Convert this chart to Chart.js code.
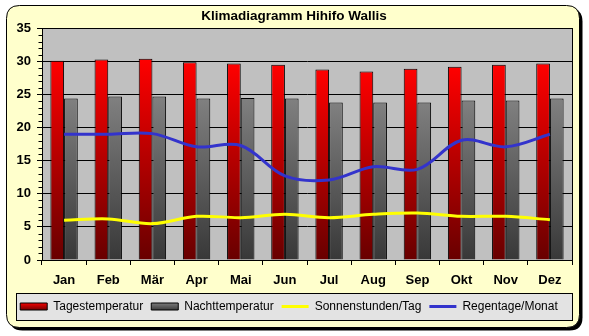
<!DOCTYPE html>
<html><head><meta charset="utf-8">
<script src="https://cdn.jsdelivr.net/npm/chart.js@4/dist/chart.umd.min.js"></script>
<style>html,body{margin:0;padding:0;background:#fff;} canvas{display:block;}</style>
</head><body>
<canvas id="c" width="589" height="336"></canvas>
<script>
const chartTitle = 'Klimadiagramm Hihifo Wallis';
const months = ['Jan','Feb','Mär','Apr','Mai','Jun','Jul','Aug','Sep','Okt','Nov','Dez'];
const tagesTemp = [30.1,30.3,30.4,29.9,29.7,29.5,28.8,28.5,28.9,29.2,29.5,29.7];
const nachtTemp = [24.4,24.7,24.7,24.4,24.5,24.4,23.8,23.8,23.8,24.1,24.1,24.4];
const sonnenstunden = [6.0,6.2,5.5,6.6,6.4,6.9,6.4,6.9,7.1,6.6,6.6,6.1];
const regentage = [19.0,19.0,19.1,17.1,17.3,12.7,12.1,14.1,13.7,18.1,17.1,19.0];
const yTicks = [0,5,10,15,20,25,30,35];
const seriesNames = ['Tagestemperatur','Nachttemperatur','Sonnenstunden/Tag','Regentage/Monat'];

const FONT = '"Liberation Sans", Arial, sans-serif';

function barGradient(topColor, bottomColor) {
  return (ctx) => {
    const chart = ctx.chart;
    const area = chart.chartArea;
    if (!area || ctx.type !== 'data' || !ctx.parsed) return topColor;
    const ys = chart.scales.y;
    const y0 = ys.getPixelForValue(ctx.parsed.y);
    const y1 = ys.getPixelForValue(0);
    const g = chart.ctx.createLinearGradient(0, y0, 0, y1);
    g.addColorStop(0, topColor);
    g.addColorStop(1, bottomColor);
    return g;
  };
}

function roundRect(ctx, x, y, w, h, r) {
  ctx.beginPath();
  ctx.moveTo(x + r, y);
  ctx.lineTo(x + w - r, y);
  ctx.quadraticCurveTo(x + w, y, x + w, y + r);
  ctx.lineTo(x + w, y + h - r);
  ctx.quadraticCurveTo(x + w, y + h, x + w - r, y + h);
  ctx.lineTo(x + r, y + h);
  ctx.quadraticCurveTo(x, y + h, x, y + h - r);
  ctx.lineTo(x, y + r);
  ctx.quadraticCurveTo(x, y, x + r, y);
  ctx.closePath();
}

const decor = {
  id: 'decor',
  afterLayout(chart) {
    if (chart.titleBlock) { chart.titleBlock.left += 10; }
  },
  beforeDraw(chart) {
    const ctx = chart.ctx;
    const a = chart.chartArea;
    ctx.save();
    roundRect(ctx, 9.5, 8.5, 573, 322, 13);
    ctx.fillStyle = '#000';
    ctx.fill();
    roundRect(ctx, 6.5, 5.5, 573, 322, 13);
    ctx.fillStyle = '#FFFFCC';
    ctx.fill();
    ctx.lineWidth = 1;
    ctx.strokeStyle = '#000';
    ctx.stroke();
    ctx.fillStyle = '#C0C0C0';
    ctx.fillRect(a.left, a.top, a.right - a.left, a.bottom - a.top);
    const lg = chart.legend;
    if (lg && lg.legendHitBoxes && lg.legendHitBoxes.length) {
      const hb = lg.legendHitBoxes[0];
      const cy = hb.top + hb.height / 2;
      const lx = 16.5;
      const rx = Math.round(a.right) + 0.5;
      const ty = Math.round(cy - 13.5) + 0.5;
      const by = Math.round(cy + 13.5) + 0.5;
      ctx.fillStyle = '#E3E3E3';
      ctx.fillRect(lx, ty, rx - lx, by - ty);
      ctx.strokeStyle = '#000';
      ctx.strokeRect(lx, ty, rx - lx, by - ty);
      lg.legendItems.forEach((it, i) => {
        const ds = chart.data.datasets[it.datasetIndex];
        if (ds.type !== 'line') {
          const h = lg.legendHitBoxes[i];
          const c = h.top + h.height / 2;
          const g = ctx.createLinearGradient(0, c - 4, 0, c + 4);
          g.addColorStop(0, ds.gradTop);
          g.addColorStop(1, ds.gradBottom);
          it.fillStyle = g;
        }
      });
    }
    ctx.restore();
  },
  beforeDatasetsDraw(chart) {
    const ctx = chart.ctx;
    const a = chart.chartArea;
    const ys = chart.scales.y;
    ctx.save();
    ctx.strokeStyle = '#000';
    ctx.lineWidth = 1;
    const l = Math.round(a.left) + 0.5, r = Math.round(a.right) + 0.5;
    const t = Math.round(a.top) + 0.5, b = Math.round(a.bottom) + 0.5;
    ctx.strokeRect(l, t, r - l, b - t);
    ctx.beginPath();
    for (let v = yTicks[0]; v <= yTicks[yTicks.length - 1]; v += 1) {
      if (v % 5 === 0) continue;
      const y = Math.round(ys.getPixelForValue(v)) + 0.5;
      ctx.moveTo(l - 4, y);
      ctx.lineTo(l, y);
    }
    ctx.stroke();
    ctx.restore();
  }
};

new Chart(document.getElementById('c'), {
  type: 'bar',
  data: {
    labels: months,
    datasets: [
      { label: seriesNames[0], data: tagesTemp, order: 2,
        gradTop: '#FF0000', gradBottom: '#680000',
        backgroundColor: barGradient('#FF0000', '#680000'),
        borderColor: '#000', borderWidth: 1,
        categoryPercentage: 0.62, barPercentage: 1.0 },
      { label: seriesNames[1], data: nachtTemp, order: 2,
        gradTop: '#808080', gradBottom: '#383838',
        backgroundColor: barGradient('#808080', '#383838'),
        borderColor: '#000', borderWidth: 1,
        categoryPercentage: 0.62, barPercentage: 1.0 },
      { type: 'line', label: seriesNames[2], data: sonnenstunden, order: 1,
        borderColor: '#FFFF00', backgroundColor: '#FFFF00', borderWidth: 3,
        pointRadius: 0, pointHoverRadius: 0, tension: 0.35, fill: false },
      { type: 'line', label: seriesNames[3], data: regentage, order: 1,
        borderColor: '#3333CC', backgroundColor: '#3333CC', borderWidth: 3,
        pointRadius: 0, pointHoverRadius: 0, tension: 0.35, fill: false }
    ]
  },
  options: {
    responsive: false,
    animation: false,
    events: [],
    layout: { padding: { left: 6, right: 17, top: 5, bottom: 13.5 } },
    scales: {
      x: {
        offset: true,
        grid: { display: true, drawOnChartArea: false, drawTicks: true, tickLength: 5, color: '#000', offset: true },
        border: { color: '#000', width: 1 },
        ticks: { color: '#000', padding: 8, font: { family: FONT, size: 13, weight: 'bold' }, maxRotation: 0 },
        afterFit(scale) { scale.height = 32.5; }
      },
      y: {
        min: yTicks[0], max: yTicks[yTicks.length - 1],
        ticks: { stepSize: yTicks[1] - yTicks[0], color: '#000', padding: 6,
          font: { family: FONT, size: 13, weight: 'bold' } },
        grid: { color: '#000', lineWidth: 1, drawTicks: true, tickLength: 5 },
        border: { color: '#000', width: 1 },
        afterFit(scale) { scale.width = 36; }
      }
    },
    plugins: {
      title: {
        display: true, text: chartTitle, color: '#000',
        font: { family: FONT, size: 13.5, weight: 'bold', lineHeight: 1.2 },
        padding: { top: 3.5, bottom: 3.7 }
      },
      legend: {
        display: true, position: 'bottom',
        labels: {
          color: '#000',
          font: { family: FONT, size: 12, weight: 'normal' },
          usePointStyle: true, pointStyleWidth: 27, boxWidth: 27, boxHeight: 7,
          padding: 8,
          generateLabels(chart) {
            const items = Chart.defaults.plugins.legend.labels.generateLabels(chart);
            items.sort((p, q) => p.datasetIndex - q.datasetIndex);
            items.forEach(it => {
              const ds = chart.data.datasets[it.datasetIndex];
              if (ds.type === 'line') {
                it.pointStyle = 'line';
                it.strokeStyle = ds.borderColor;
                it.fillStyle = ds.borderColor;
                it.lineWidth = 3;
              } else {
                it.pointStyle = 'rect';
                it.strokeStyle = '#000';
                it.fillStyle = ds.gradTop;
                it.lineWidth = 1;
              }
            });
            return items;
          }
        }
      },
      tooltip: { enabled: false }
    }
  },
  plugins: [decor]
});
</script>
</body></html>
